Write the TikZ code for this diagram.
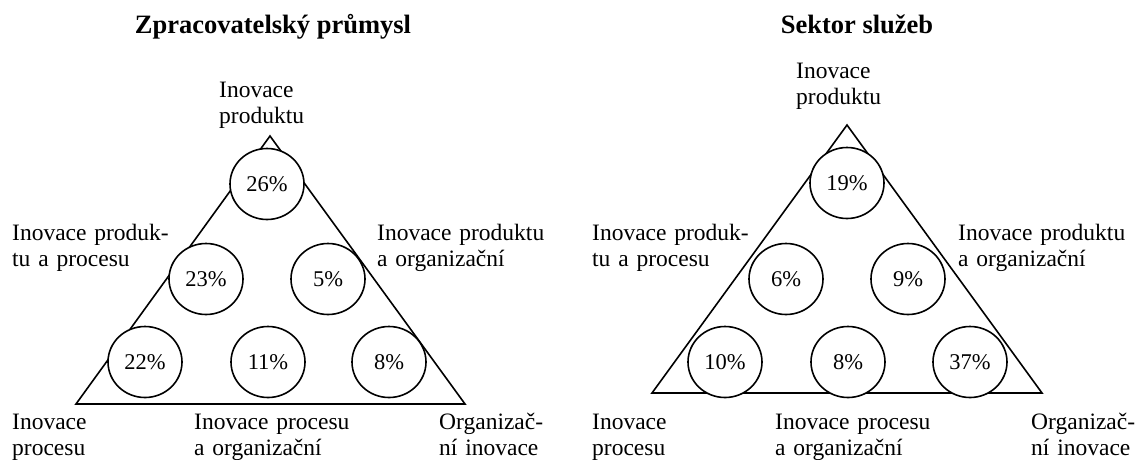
\documentclass[tikz,border=0pt]{standalone}
\usepackage{fontspec}
\setmainfont{Liberation Serif}
\usetikzlibrary{shapes.geometric}
\begin{document}
\begin{tikzpicture}[x=1pt,y=-1pt,
 lbl/.style={anchor=base west, inner sep=0pt, text width=220pt, align=left, font=\fontsize{23.5}{26.5}\selectfont},
 ttl/.style={anchor=base, inner sep=0pt, font=\fontsize{26.5}{30}\selectfont\bfseries},
 pct/.style={draw, line width=1.6pt, fill=white, ellipse, minimum width=74pt, minimum height=71pt, inner sep=0pt, font=\fontsize{22.5}{26}\selectfont},
 tri/.style={draw, line width=1.6pt, line join=miter}]
\useasboundingbox (0,0) rectangle (1138,459);
% left panel
\node[ttl] (t1) at (273,33) {Zpracovatelský průmysl};
\coordinate (L1) at (76,404);
\coordinate (R1) at (465,404);
\coordinate (A1) at (270,136);
\draw[tri] (L1) -- (R1) -- (A1) -- cycle;
\node[pct] (p1) at (267,184) {26\%};
\node[pct] (p2) at (206,279) {23\%};
\node[pct] (p3) at (328,279) {5\%};
\node[pct] (p4) at (145,362) {22\%};
\node[pct] (p5) at (268,362) {11\%};
\node[pct] (p6) at (389,362) {8\%};
\node[lbl] (a1) at (219,97) {Inovace\\produktu};
\node[lbl] (a2) at (12,240) {Inovace produk-\\tu a procesu};
\node[lbl] (a3) at (377,240) {Inovace produktu\\a organizační};
\node[lbl] (a4) at (12,429) {Inovace\\procesu};
\node[lbl] (a5) at (194,429) {Inovace procesu\\a organizační};
\node[lbl] (a6) at (439,429) {Organizač-\\ní inovace};
% right panel
\node[ttl] (t2) at (857,33) {Sektor služeb};
\coordinate (L2) at (652,393);
\coordinate (R2) at (1042,393);
\coordinate (A2) at (847,125);
\draw[tri] (L2) -- (R2) -- (A2) -- cycle;
\node[pct] (q1) at (847,183) {19\%};
\node[pct] (q2) at (786,279) {6\%};
\node[pct] (q3) at (908,279) {9\%};
\node[pct] (q4) at (725,362) {10\%};
\node[pct] (q5) at (848,362) {8\%};
\node[pct] (q6) at (970,362) {37\%};
\node[lbl] (b1) at (796,78) {Inovace\\produktu};
\node[lbl] (b2) at (592,240) {Inovace produk-\\tu a procesu};
\node[lbl] (b3) at (958,240) {Inovace produktu\\a organizační};
\node[lbl] (b4) at (592,429) {Inovace\\procesu};
\node[lbl] (b5) at (775,429) {Inovace procesu\\a organizační};
\node[lbl] (b6) at (1031,429) {Organizač-\\ní inovace};
\end{tikzpicture}
\end{document}
